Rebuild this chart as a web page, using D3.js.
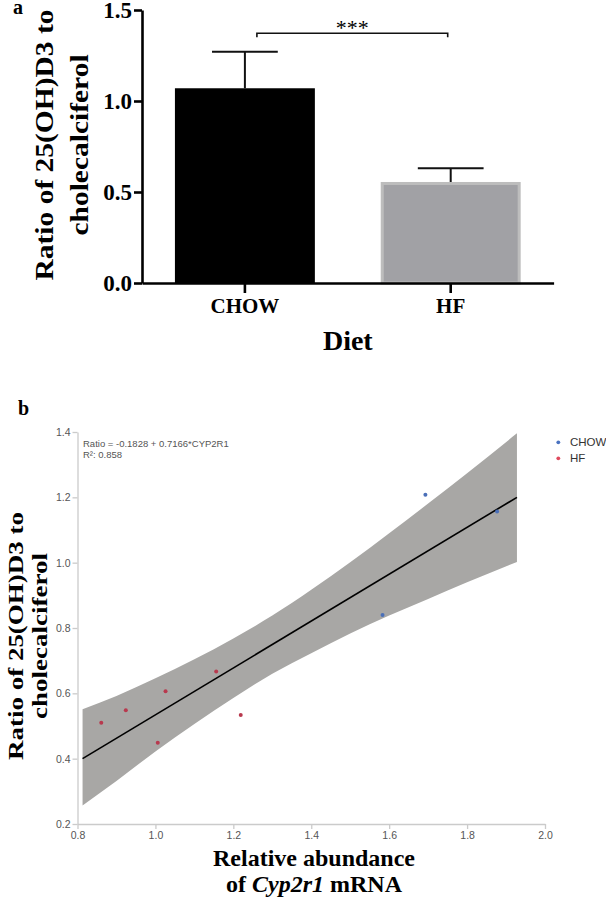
<!DOCTYPE html>
<html><head><meta charset="utf-8">
<script src="https://cdn.jsdelivr.net/npm/d3@7"></script>
<style>body{margin:0;background:#fff}svg{display:block}</style>
</head><body>
<svg id="chart" width="606" height="900"></svg>
<script>
// ---------- Panel a data ----------
const barCategories = ["CHOW", "HF"];
const barMeans = [1.07, 0.555];
const barErrors = [0.20, 0.075];
const barYTicks = [0, 0.5, 1.0, 1.5];
const sigLevel = 1.372;
const sigLabel = "***";

// ---------- Panel b data ----------
const chowX = [1.583, 1.693, 1.877];
const chowY = [0.840, 1.208, 1.157];
const hfX = [0.861, 0.924, 1.006, 1.026, 1.156, 1.219];
const hfY = [0.510, 0.548, 0.449, 0.606, 0.667, 0.534];
const fitX = [0.813, 1.928];
const fitY = [0.400, 1.200];
const bandX = [0.813, 0.9, 1.0, 1.1, 1.2, 1.3, 1.4, 1.5, 1.6, 1.7, 1.8, 1.928];
const bandUpper = [0.551, 0.592, 0.646, 0.704, 0.768, 0.838, 0.917, 1.001, 1.090, 1.181, 1.274, 1.396];
const bandLower = [0.257, 0.332, 0.422, 0.506, 0.586, 0.660, 0.723, 0.783, 0.838, 0.889, 0.940, 1.002];
const scatterXTicks = [0.8, 1.0, 1.2, 1.4, 1.6, 1.8, 2.0];
const scatterYTicks = [0.2, 0.4, 0.6, 0.8, 1.0, 1.2, 1.4];
const legendLabels = ["CHOW", "HF"];
const legendColors = ["#4a72c0", "#e04a5e"];
const pointColors = {CHOW: "#4a6fb8", HF: "#b8394e"};
const eqText = "Ratio = -0.1828 + 0.7166*CYP2R1";
const r2Text = "R\u00b2: 0.858";

const serif = "'Liberation Serif','Times New Roman',serif";
const sans = "'Liberation Sans',Arial,Helvetica,sans-serif";

const svg = d3.select("#chart");

// =============== Panel a ===============
const ga = svg.append("g");
const ya = d3.scaleLinear().domain([0, 1.5]).range([283, 10]);
const xa = d3.scaleBand().domain(barCategories).range([142, 553.6]).paddingInner(0.32).paddingOuter(0.16);
const barData = barCategories.map((c, i) => ({c, m: barMeans[i], e: barErrors[i]}));

const capHalf = xa.bandwidth() * 0.235;
barData.forEach(d => {
  const cx = xa(d.c) + xa.bandwidth() / 2;
  ga.append("line").attr("x1", cx).attr("x2", cx)
    .attr("y1", ya(d.m)).attr("y2", ya(d.m + d.e))
    .attr("stroke", "#111").attr("stroke-width", 2);
  ga.append("line").attr("x1", cx - capHalf).attr("x2", cx + capHalf)
    .attr("y1", ya(d.m + d.e)).attr("y2", ya(d.m + d.e))
    .attr("stroke", "#111").attr("stroke-width", 2);
});

ga.selectAll("rect.bar").data(barData).join("rect")
  .attr("class", "bar")
  .attr("x", d => xa(d.c) + (d.c === "HF" ? 1.5 : 0))
  .attr("width", d => xa.bandwidth() - (d.c === "HF" ? 3 : 0))
  .attr("y", d => ya(d.m) + (d.c === "HF" ? 1.5 : 0))
  .attr("height", d => ya(0) - ya(d.m) - (d.c === "HF" ? 1.5 : 0))
  .attr("fill", d => d.c === "HF" ? "#a1a1a5" : "#000")
  .attr("stroke", d => d.c === "HF" ? "#bdbdbd" : "none")
  .attr("stroke-width", 3);

const yAxisA = ga.append("g").attr("transform", `translate(${xa.range()[0]},0)`)
  .call(d3.axisLeft(ya).tickValues(barYTicks).tickFormat(d3.format(".1f")).tickSize(8).tickSizeOuter(0).tickPadding(2));
const xAxisA = ga.append("g").attr("transform", `translate(0,${ya(0)})`)
  .call(d3.axisBottom(xa).tickSize(10).tickSizeOuter(0).tickPadding(5));
[yAxisA, xAxisA].forEach(ax => {
  ax.select(".domain").attr("stroke", "#000").attr("stroke-width", 2.6);
  ax.selectAll(".tick line").attr("stroke", "#000").attr("stroke-width", 2.6);
  ax.selectAll("text").attr("fill", "#000").attr("font-family", serif).attr("font-weight", "bold");
});
yAxisA.selectAll("text").attr("font-size", 23);
xAxisA.selectAll("text").attr("font-size", 21);

// significance bracket
const sx1 = xa("CHOW") + xa.bandwidth() / 2 + 12;
const sx2 = xa("HF") + xa.bandwidth() / 2 - 3;
const sy = ya(sigLevel);
ga.append("path").attr("d", `M${sx1},${sy + 4}V${sy}H${sx2}V${sy + 4}`)
  .attr("fill", "none").attr("stroke", "#111").attr("stroke-width", 1.6);
ga.append("text").attr("x", (sx1 + sx2) / 2).attr("y", sy + 1.5)
  .attr("text-anchor", "middle").attr("font-family", serif).attr("font-size", 22)
  .text(sigLabel);

// titles
ga.append("text").attr("x", 13).attr("y", 14).attr("font-family", serif)
  .attr("font-weight", "bold").attr("font-size", 20).text("a");
[["Ratio of 25(OH)D3 to", 53], ["cholecalciferol", 88]].forEach(([t, x]) => {
  ga.append("text").attr("transform", `translate(${x},145) rotate(-90) scale(1,0.88)`)
    .attr("text-anchor", "middle").attr("font-family", serif).attr("font-weight", "bold")
    .attr("font-size", 29.5).text(t);
});
ga.append("text").attr("x", (xa.range()[0] + xa.range()[1]) / 2).attr("y", 350)
  .attr("text-anchor", "middle").attr("font-family", serif).attr("font-weight", "bold")
  .attr("font-size", 28).text("Diet");

// =============== Panel b ===============
const gb = svg.append("g");
const xb = d3.scaleLinear().domain([0.8, 2.0]).range([77.5, 545]);
const yb = d3.scaleLinear().domain([0.2, 1.4]).range([824, 432]);

const bandData = bandX.map((x, i) => ({x, lo: bandLower[i], hi: bandUpper[i]}));
gb.append("path").datum(bandData)
  .attr("d", d3.area().x(d => xb(d.x)).y0(d => yb(d.lo)).y1(d => yb(d.hi)).curve(d3.curveMonotoneX))
  .attr("fill", "#a8a7a5");

gb.append("path").datum(fitX.map((x, i) => [x, fitY[i]]))
  .attr("d", d3.line().x(d => xb(d[0])).y(d => yb(d[1])))
  .attr("stroke", "#000").attr("stroke-width", 1.6).attr("fill", "none");

const yAxisB = gb.append("g").attr("transform", `translate(${xb.range()[0]},0)`)
  .call(d3.axisLeft(yb).tickValues(scatterYTicks).tickFormat(d3.format(".1f")).tickSize(5).tickSizeOuter(0).tickPadding(2));
const xAxisB = gb.append("g").attr("transform", `translate(0,${yb.range()[0]})`)
  .call(d3.axisBottom(xb).tickValues(scatterXTicks).tickFormat(d3.format(".1f")).tickSize(5).tickSizeOuter(0).tickPadding(3));
[yAxisB, xAxisB].forEach(ax => {
  ax.select(".domain").attr("stroke", "#cbcbcb").attr("stroke-width", 1.3);
  ax.selectAll(".tick line").attr("stroke", "#cbcbcb").attr("stroke-width", 1.3);
  ax.selectAll("text").attr("fill", "#555").attr("font-family", sans).attr("font-size", 10.5);
});

const pts = hfX.map((x, i) => ({g: "HF", x, y: hfY[i]}))
  .concat(chowX.map((x, i) => ({g: "CHOW", x, y: chowY[i]})));
gb.selectAll("circle.pt").data(pts).join("circle").attr("class", "pt")
  .attr("cx", d => xb(d.x)).attr("cy", d => yb(d.y)).attr("r", 2)
  .attr("fill", d => pointColors[d.g]);

gb.append("text").attr("x", 83).attr("y", 446.7).attr("font-family", sans)
  .attr("font-size", 9.5).attr("fill", "#555").text(eqText);
gb.append("text").attr("x", 83).attr("y", 457.7).attr("font-family", sans)
  .attr("font-size", 9.5).attr("fill", "#555").text(r2Text);

legendLabels.forEach((l, i) => {
  const y = 442.3 + i * 16;
  gb.append("circle").attr("cx", 558.3).attr("cy", y).attr("r", 1.9).attr("fill", legendColors[i]);
  gb.append("text").attr("x", 570).attr("y", y + 4.1).attr("font-family", sans)
    .attr("font-size", 11.5).attr("fill", "#333").text(l);
});

gb.append("text").attr("x", 18).attr("y", 415).attr("font-family", serif)
  .attr("font-weight", "bold").attr("font-size", 20).text("b");
[["Ratio of 25(OH)D3 to", 23], ["cholecalciferol", 47]].forEach(([t, x]) => {
  gb.append("text").attr("transform", `translate(${x},636) rotate(-90) scale(1,0.8)`)
    .attr("text-anchor", "middle").attr("font-family", serif).attr("font-weight", "bold")
    .attr("font-size", 27).text(t);
});
const xtb = gb.append("g").attr("font-family", serif).attr("font-weight", "bold")
  .attr("font-size", 24).attr("text-anchor", "middle");
xtb.append("text").attr("x", 314).attr("y", 866).text("Relative abundance");
const l2 = xtb.append("text").attr("x", 314).attr("y", 892);
l2.append("tspan").text("of ");
l2.append("tspan").attr("font-style", "italic").text("Cyp2r1");
l2.append("tspan").text(" mRNA");
</script></body></html>
